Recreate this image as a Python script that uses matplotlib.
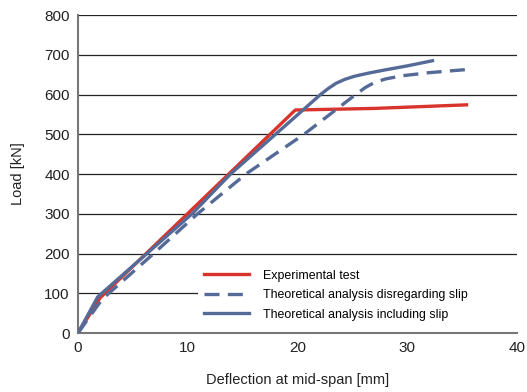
import matplotlib.pyplot as plt

plt.rcParams['font.family'] = ['Liberation Sans', 'DejaVu Sans']

# Experimental test
exp_x = [0, 2.0, 19.8, 27, 35.4]
exp_y = [0, 88, 561, 565, 574]

# Theoretical analysis disregarding slip
dis_x = [0, 2.2, 6.9, 10.9, 15.3, 20.6, 25.3, 26.2, 27.0, 28.0, 29.5, 32, 35.5]
dis_y = [0, 85, 200, 300, 400, 500, 600, 618, 630, 639, 647, 655, 663]

# Theoretical analysis including slip
inc_x = [0, 1.8, 10.4, 13.9, 22.1, 22.8, 23.5, 24.3, 25.2, 26.5, 28, 30, 32.3]
inc_y = [0, 91, 300, 400, 600, 615, 628, 638, 646, 654, 662, 672, 685]

red = '#d9342b'
blue = '#566a98'

fig = plt.figure(figsize=(5.27, 3.92), dpi=100)
ax = fig.add_axes([0.148, 0.1505, 0.833, 0.8112])

for yv in range(100, 900, 100):
    ax.axhline(yv, color='#222222', lw=0.9, zorder=1)

ax.plot(exp_x, exp_y, color=red, lw=2.4, label='Experimental test', zorder=3)
ax.plot(dis_x, dis_y, color=blue, lw=2.4, ls=(0, (4.5, 2.5)),
        label='Theoretical analysis disregarding slip', zorder=3)
ax.plot(inc_x, inc_y, color=blue, lw=2.4, label='Theoretical analysis including slip', zorder=4)

ax.set_xlim(0, 40)
ax.set_ylim(0, 800)
ax.set_xticks([0, 10, 20, 30, 40])
ax.set_yticks(range(0, 900, 100))
ax.tick_params(length=0, labelsize=11, pad=6, colors='#222222')
for s in ['top', 'right']:
    ax.spines[s].set_visible(False)
for s in ['left', 'bottom']:
    ax.spines[s].set_color('#777777')
    ax.spines[s].set_linewidth(1.5)

ax.set_xlabel('Deflection at mid-span [mm]', fontsize=10.5, color='#222222', labelpad=13)
ax.set_ylabel('Load [kN]', fontsize=10.5, color='#222222', labelpad=14)

leg = ax.legend(loc='lower left', bbox_to_anchor=(0.26, 0.0, 0.76, 0.2), mode='expand',
                fontsize=8.9, frameon=True, framealpha=1, edgecolor='none', fancybox=False,
                handlelength=3.6, handletextpad=1.1, labelspacing=0.6, borderpad=0.5)
leg.set_zorder(5)

fig.savefig('out.png', dpi=100)
